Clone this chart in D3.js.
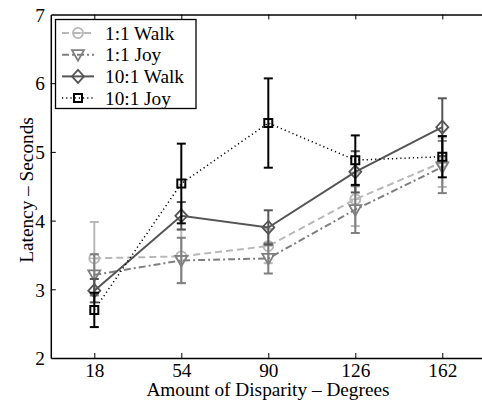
<!DOCTYPE html>
<html><head><meta charset="utf-8">
<script src="https://cdn.jsdelivr.net/npm/d3@7"></script>
<style>body{margin:0;background:#fff}svg{display:block}</style>
</head><body>
<svg id="c" width="482" height="401" style="font-family:'Liberation Serif','Times New Roman','DejaVu Serif',serif"></svg>
<script>
const categories = [18, 54, 90, 126, 162];
const seriesNames = ["1:1 Walk", "1:1 Joy", "10:1 Walk", "10:1 Joy"];
const walk11 = [3.45, 3.48, 3.63, 4.31, 4.85];
const walk11Err = [0.53, 0.39, 0.25, 0.39, 0.36];
const joy11 = [3.21, 3.42, 3.45, 4.16, 4.78];
const joy11Err = [0.30, 0.33, 0.22, 0.34, 0.38];
const walk101 = [2.98, 4.07, 3.90, 4.71, 5.36];
const walk101Err = [0.17, 0.20, 0.25, 0.30, 0.42];
const joy101 = [2.70, 4.54, 5.42, 4.88, 4.93];
const joy101Err = [0.25, 0.58, 0.65, 0.36, 0.30];
const yTicks = [2, 3, 4, 5, 6, 7];

const FONT = "'Liberation Serif','Times New Roman','DejaVu Serif',serif";
const FS = 19.3;
const series = [
  {name: seriesNames[0], v: walk11, e: walk11Err, color: "#b8b8b8", dash: "7,4", w: 2, m: "circle"},
  {name: seriesNames[1], v: joy11, e: joy11Err, color: "#7f7f7f", dash: "7,3,2,3", w: 2, m: "tri"},
  {name: seriesNames[2], v: walk101, e: walk101Err, color: "#555555", dash: null, w: 2, m: "diamond"},
  {name: seriesNames[3], v: joy101, e: joy101Err, color: "#000000", dash: "1.2,3", w: 1.5, m: "square"}
];

const svg = d3.select("#c");
const x = d3.scaleLinear().domain([0, 180]).range([50.8, 485.8]);
const y = d3.scaleLinear().domain([2, 7]).range([358, 14.5]);

const gB = svg.append("g").attr("transform", `translate(0,${y(2)})`)
  .call(d3.axisBottom(x).tickValues(categories).tickSizeInner(-5).tickSizeOuter(0).tickPadding(5));
const gT = svg.append("g").attr("transform", `translate(0,${y(7)})`)
  .call(d3.axisTop(x).tickValues(categories).tickSizeInner(-5).tickSizeOuter(0).tickFormat(""));
const gL = svg.append("g").attr("transform", `translate(${x(0)},0)`)
  .call(d3.axisLeft(y).tickValues(yTicks).tickSizeInner(-5).tickSizeOuter(0).tickPadding(6).tickFormat(d3.format("d")));
[gB, gT, gL].forEach(g => {
  g.attr("font-family", FONT);
  g.select(".domain").attr("stroke", "#000").attr("stroke-width", 1.5);
  g.selectAll(".tick line").attr("stroke", "#000").attr("stroke-width", 1);
  g.selectAll("text").attr("font-size", FS).attr("fill", "#000").attr("font-family", FONT);
});
gL.selectAll(".tick line").filter(d => d === 2 || d === 7).remove();
gL.selectAll("text").attr("dy", "0.35em");

svg.append("text").attr("x", 268).attr("y", 396).attr("text-anchor", "middle")
  .attr("font-family", FONT).attr("font-size", FS).text("Amount of Disparity – Degrees");
svg.append("text").attr("transform", "translate(33,190) rotate(-90)").attr("text-anchor", "middle")
  .attr("font-family", FONT).attr("font-size", FS).text("Latency – Seconds");

function marker(g, type, cx, cy, color) {
  const s = g.append("path").attr("fill", "none").attr("stroke", color).attr("stroke-width", 1.8);
  let p;
  if (type === "circle") p = d3.symbol(d3.symbolCircle, 80)();
  else if (type === "tri") p = "M-6,-4.5L6,-4.5L0,6Z";
  else if (type === "diamond") p = "M0,-6.5L6,0L0,6.5L-6,0Z";
  else p = "M-4,-4L4,-4L4,4L-4,4Z";
  s.attr("d", p).attr("transform", `translate(${cx},${cy})`);
  if (type === "circle") g.append("line").attr("x1", cx - 4.5).attr("x2", cx + 4.5).attr("y1", cy).attr("y2", cy)
    .attr("stroke", color).attr("stroke-width", 1.5);
  if (type === "square") s.attr("stroke-width", 2);
}

const line = d3.line().x((d, i) => x(categories[i])).y(d => y(d));
series.forEach(s => {
  const g = svg.append("g");
  s.v.forEach((v, i) => {
    const cx = x(categories[i]);
    const lo = y(v - s.e[i]), hi = y(v + s.e[i]);
    g.append("line").attr("x1", cx).attr("x2", cx).attr("y1", lo).attr("y2", hi).attr("stroke", s.color).attr("stroke-width", 2);
    [lo, hi].forEach(yy => g.append("line").attr("x1", cx - 4.5).attr("x2", cx + 4.5).attr("y1", yy).attr("y2", yy)
      .attr("stroke", s.color).attr("stroke-width", 2));
  });
  g.append("path").attr("d", line(s.v)).attr("fill", "none").attr("stroke", s.color)
    .attr("stroke-width", s.w).attr("stroke-dasharray", s.dash);
  s.v.forEach((v, i) => marker(g, s.m, x(categories[i]), y(v), s.color));
});

const lg = svg.append("g");
lg.append("rect").attr("x", 55.5).attr("y", 19.5).attr("width", 140.5).attr("height", 89)
  .attr("fill", "#fff").attr("stroke", "#000").attr("stroke-width", 1.3);
series.forEach((s, i) => {
  const yy = 33 + i * 21.7;
  lg.append("line").attr("x1", 62).attr("x2", 94).attr("y1", yy).attr("y2", yy)
    .attr("stroke", s.color).attr("stroke-width", s.w).attr("stroke-dasharray", s.dash);
  marker(lg, s.m, 78, yy, s.color);
  lg.append("text").attr("x", 105).attr("y", yy + 6.5).attr("font-family", FONT).attr("font-size", FS).text(s.name);
});
</script>
</body></html>
